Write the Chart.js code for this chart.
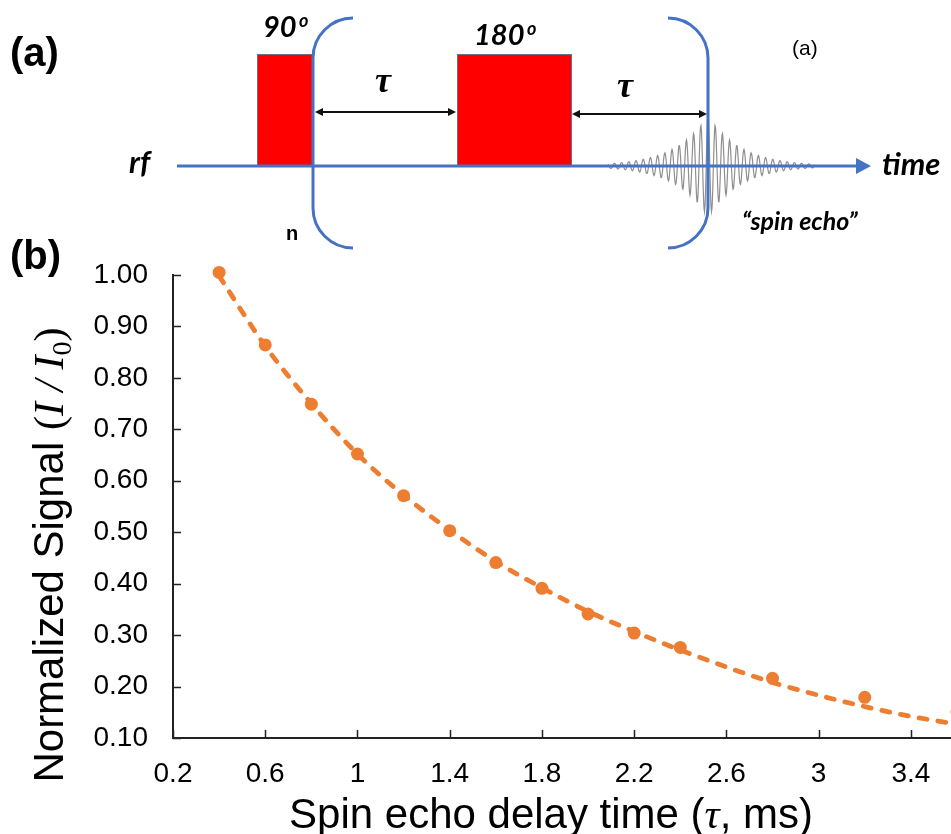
<!DOCTYPE html>
<html>
<head>
<meta charset="utf-8">
<script src="https://cdn.jsdelivr.net/npm/chart.js@4.4.1/dist/chart.umd.min.js"></script>
<style>
  html, body { margin: 0; padding: 0; background: #fff; overflow: hidden; }
  #chart { display: block; }
</style>
</head>
<body>
<canvas id="chart" width="951" height="834"></canvas>
<script>
// measured echo decay (tau in ms, I/I0)
const delayTimes = [0.4, 0.6, 0.8, 1.0, 1.2, 1.4, 1.6, 1.8, 2.0, 2.2, 2.4, 2.8, 3.2, 3.6];
const signal = [1.005, 0.864, 0.749, 0.652, 0.571, 0.503, 0.441, 0.391, 0.341, 0.304, 0.276, 0.216, 0.179, 0.151];

// fitted curve
const fitTimes = [0.4, 0.6, 0.8, 1.0, 1.2, 1.4, 1.6, 1.8, 2.0, 2.2, 2.4, 2.6, 2.8, 3.0, 3.2, 3.4, 3.6];
const fitSignal = [0.998, 0.862, 0.750, 0.652, 0.572, 0.504, 0.443, 0.392, 0.346, 0.307, 0.271, 0.238, 0.208, 0.183, 0.161, 0.142, 0.127];

const xTicks = [0.2, 0.6, 1.0, 1.4, 1.8, 2.2, 2.6, 3.0, 3.4];
const yTicks = [0.1, 0.2, 0.3, 0.4, 0.5, 0.6, 0.7, 0.8, 0.9, 1.0];

const ORANGE = '#ED7D31';
const BLUE = '#4472C4';
const SANS = '"Liberation Sans", Arial, sans-serif';
const SERIF = '"Liberation Serif", "DejaVu Serif", serif';
const CAL = 'Lato, "Open Sans", sans-serif';

// draw a run of text pieces with different fonts, centred on x
function richText(ctx, parts, cx, y) {
  let total = 0;
  parts.forEach(p => { ctx.font = p.font; p.w = ctx.measureText(p.t).width; total += p.w; });
  let x = cx - total / 2;
  ctx.textAlign = 'left';
  ctx.textBaseline = 'alphabetic';
  parts.forEach(p => {
    ctx.font = p.font;
    ctx.fillText(p.t, x, y + (p.dy || 0));
    x += p.w;
  });
}

function arrowHead(ctx, x, y, dir, len, half) {
  ctx.beginPath();
  ctx.moveTo(x, y);
  ctx.lineTo(x - dir * len, y - half);
  ctx.lineTo(x - dir * len, y + half);
  ctx.closePath();
  ctx.fill();
}

const pulseDiagram = {
  id: 'pulseDiagram',
  afterDraw(chart) {
    const ctx = chart.ctx;
    ctx.save();

    // panel letters
    ctx.fillStyle = '#000';
    ctx.font = 'bold 40px ' + SANS;
    ctx.textAlign = 'left';
    ctx.textBaseline = 'alphabetic';
    ctx.fillText('(a)', 10, 66);
    ctx.fillText('(b)', 10, 269);

    // echo signal
    ctx.strokeStyle = '#8f8f8f';
    ctx.lineWidth = 1.2;
    ctx.beginPath();
    for (let px = 608; px <= 815; px += 0.5) {
      const d = px - 708;
      const amp = 51 * Math.exp(-Math.abs(d) / 32);
      const y = 166 - amp * Math.cos(2 * Math.PI * d / 7.2);
      if (px === 608) ctx.moveTo(px, y); else ctx.lineTo(px, y);
    }
    ctx.stroke();

    // pulses
    ctx.fillStyle = '#FF0000';
    ctx.strokeStyle = '#6d6d8a';
    ctx.lineWidth = 1;
    ctx.fillRect(257, 54, 56, 112);
    ctx.strokeRect(257.5, 54.5, 55, 111);
    ctx.fillRect(457, 54, 115, 112);
    ctx.strokeRect(457.5, 54.5, 114, 111);

    // rf / time axis
    ctx.strokeStyle = BLUE;
    ctx.fillStyle = BLUE;
    ctx.lineWidth = 3;
    ctx.beginPath();
    ctx.moveTo(177, 166);
    ctx.lineTo(858, 166);
    ctx.stroke();
    arrowHead(ctx, 871, 166, 1, 15, 8);

    // brackets
    ctx.lineWidth = 3;
    ctx.beginPath();
    ctx.moveTo(353, 18);
    ctx.arc(353, 58, 40, -Math.PI / 2, Math.PI, true);
    ctx.lineTo(313, 208);
    ctx.arc(353, 208, 40, Math.PI, Math.PI / 2, true);
    ctx.stroke();
    ctx.beginPath();
    ctx.moveTo(668, 18);
    ctx.arc(668, 58, 40, -Math.PI / 2, 0, false);
    ctx.lineTo(708, 208);
    ctx.arc(668, 208, 40, 0, Math.PI / 2, false);
    ctx.stroke();

    // tau arrows
    ctx.strokeStyle = '#111';
    ctx.fillStyle = '#111';
    ctx.lineWidth = 2;
    ctx.beginPath();
    ctx.moveTo(320, 112); ctx.lineTo(451, 112);
    ctx.moveTo(577, 114); ctx.lineTo(702, 114);
    ctx.stroke();
    arrowHead(ctx, 315, 112, -1, 8, 4);
    arrowHead(ctx, 456, 112, 1, 8, 4);
    arrowHead(ctx, 572, 114, -1, 8, 4);
    arrowHead(ctx, 707, 114, 1, 8, 4);

    // labels
    ctx.fillStyle = '#000';
    ctx.textAlign = 'left';
    ctx.textBaseline = 'alphabetic';
    ctx.font = 'italic bold 36px ' + SERIF;
    ctx.fillText('\u03C4', 375, 92);
    ctx.fillText('\u03C4', 617, 97);

    ctx.font = 'italic bold 29px ' + CAL;
    ctx.fillText('90', 263, 37);
    ctx.fillText('180', 474, 45);
    ctx.font = 'italic bold 18px ' + CAL;
    ctx.fillText('o', 299, 27);
    ctx.fillText('o', 527, 35);

    ctx.font = 'italic bold 31px ' + CAL;
    ctx.fillText('rf', 129, 173);
    ctx.fillText('time', 882, 175);

    ctx.font = 'italic bold 25px ' + CAL;
    ctx.fillText('\u201Cspin echo\u201D', 742, 230);

    ctx.font = 'bold 20px ' + SANS;
    ctx.fillText('n', 286, 240);

    ctx.font = '21px ' + SANS;
    ctx.fillText('(a)', 792, 55);

    ctx.restore();
  }
};

const axisDecor = {
  id: 'axisDecor',
  afterDraw(chart) {
    const ctx = chart.ctx;
    const a = chart.chartArea;
    const xs = chart.scales.x, ys = chart.scales.y;
    ctx.save();
    // inward tick marks
    ctx.strokeStyle = '#222';
    ctx.lineWidth = 1.5;
    ctx.beginPath();
    xs.ticks.forEach(t => {
      const px = Math.round(xs.getPixelForValue(t.value)) + 0.5;
      ctx.moveTo(px, a.bottom);
      ctx.lineTo(px, a.bottom - 8);
    });
    ys.ticks.forEach(t => {
      const py = Math.round(ys.getPixelForValue(t.value)) + 0.5;
      ctx.moveTo(a.left, py);
      ctx.lineTo(a.left + 8, py);
    });
    ctx.stroke();

    // axis titles
    ctx.fillStyle = '#000';
    richText(ctx, [
      { t: 'Spin echo delay time (', font: '42px ' + SANS },
      { t: '\u03C4', font: 'italic 42px ' + SERIF },
      { t: ', ms)', font: '42px ' + SANS }
    ], 551, 828);

    ctx.translate(63, 555);
    ctx.rotate(-Math.PI / 2);
    richText(ctx, [
      { t: 'Normalized Signal ', font: '42px ' + SANS },
      { t: '(', font: '42px ' + SERIF },
      { t: 'I', font: 'italic 42px ' + SERIF },
      { t: ' / ', font: 'italic 42px ' + SERIF },
      { t: 'I', font: 'italic 42px ' + SERIF },
      { t: '0', font: '28px ' + SERIF, dy: 8 },
      { t: ')', font: '42px ' + SERIF }
    ], 0, 0);
    ctx.restore();
  }
};

new Chart(document.getElementById('chart'), {
  type: 'scatter',
  data: {
    datasets: [
      {
        label: 'Data',
        data: delayTimes.map((t, i) => ({ x: t, y: signal[i] })),
        backgroundColor: ORANGE,
        borderWidth: 0,
        pointRadius: 6.5,
        pointHoverRadius: 6.5,
        clip: false,
        order: 0
      },
      {
        label: 'Fit',
        data: fitTimes.map((t, i) => ({ x: t, y: fitSignal[i] })),
        showLine: true,
        borderColor: ORANGE,
        borderWidth: 4.8,
        borderDash: [8, 11],
        borderCapStyle: 'round',
        cubicInterpolationMode: 'monotone',
        pointRadius: 0,
        clip: false,
        order: 1
      }
    ]
  },
  options: {
    responsive: false,
    animation: false,
    devicePixelRatio: 1,
    layout: { autoPadding: false, padding: { top: 275, left: 0, right: 0, bottom: 0 } },
    plugins: { legend: { display: false }, tooltip: { enabled: false } },
    scales: {
      x: {
        type: 'linear',
        min: 0.2,
        max: 3.574,
        afterBuildTicks: s => { s.ticks = xTicks.map(v => ({ value: v })); },
        afterFit: s => { s.height = 96; s.paddingRight = 0; s.paddingLeft = 0; },
        grid: { display: false },
        border: { display: true, color: '#222', width: 2 },
        ticks: {
          padding: 11,
          color: '#000',
          font: { family: SANS, size: 28 },
          maxRotation: 0,
          autoSkip: false,
          callback: v => String(+v.toFixed(1))
        }
      },
      y: {
        type: 'linear',
        min: 0.1,
        max: 1.0,
        afterBuildTicks: s => { s.ticks = yTicks.map(v => ({ value: v })); },
        afterFit: s => { s.width = 173; s.paddingTop = 0; s.paddingBottom = 0; },
        grid: { display: false },
        border: { display: true, color: '#222', width: 2 },
        ticks: {
          padding: 17,
          color: '#000',
          font: { family: SANS, size: 28 },
          autoSkip: false,
          callback: v => v.toFixed(2)
        }
      }
    }
  },
  plugins: [pulseDiagram, axisDecor]
});
</script>
</body>
</html>
